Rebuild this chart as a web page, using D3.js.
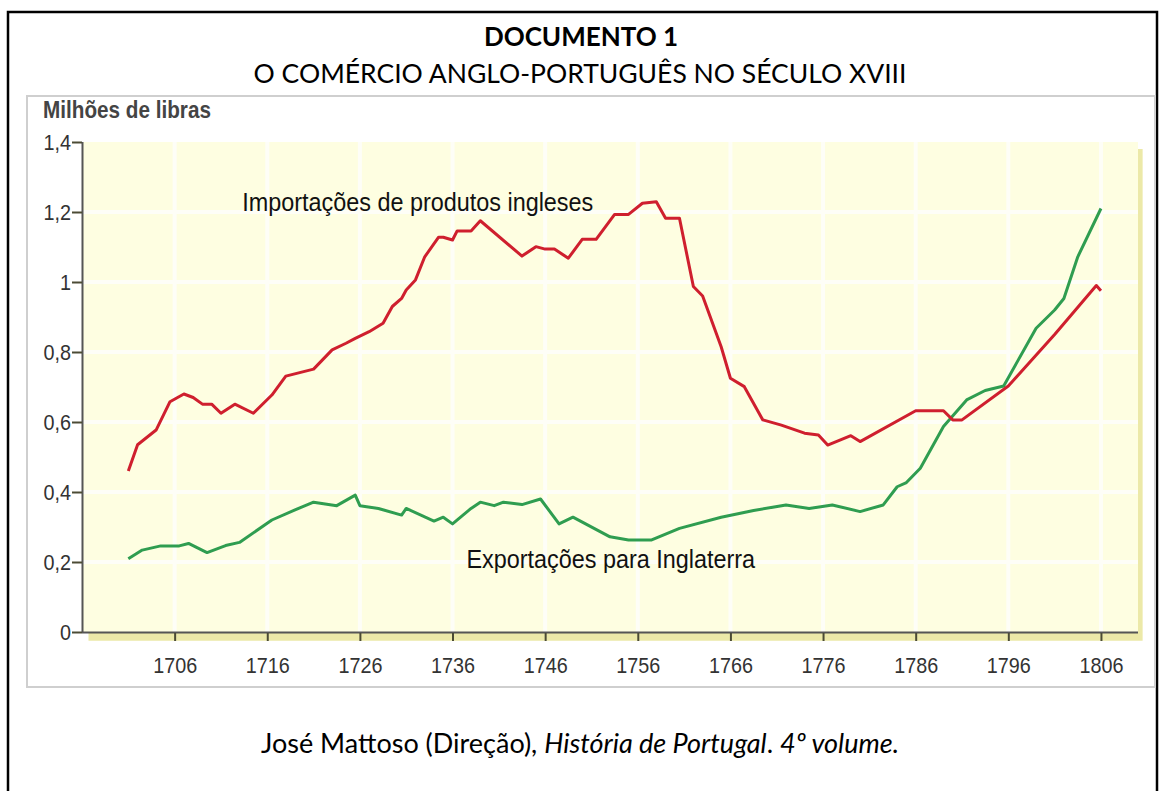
<!DOCTYPE html>
<html>
<head>
<meta charset="utf-8">
<script src="https://cdn.jsdelivr.net/npm/d3@7"></script>
<style>
  body { margin: 0; background: #fff; }
  svg { display: block; }
</style>
</head>
<body>
<svg id="doc"></svg>
<script>
const W = 1159, H = 791;

// values (milhões de libras)
const importYears = [1701, 1702, 1704, 1705.5, 1707, 1708, 1709, 1710, 1711, 1712.5, 1714.5, 1716.5, 1718,
  1721, 1723, 1724.5, 1725.5, 1727, 1728.5, 1729.5, 1730.5, 1731, 1732, 1733, 1734.5, 1735, 1736, 1736.5,
  1738, 1739, 1743.5, 1745, 1746, 1747, 1748.5, 1750, 1751.5, 1753.5, 1755, 1756.5, 1758, 1759, 1760.5,
  1762, 1763, 1765, 1766, 1767.5, 1769.5, 1771.5, 1774, 1775.5, 1776.5, 1779, 1780, 1786, 1789, 1790,
  1791, 1796, 1801, 1805.5, 1806];
const importValues = [0.46, 0.535, 0.577, 0.658, 0.68, 0.67, 0.651, 0.651, 0.625, 0.651, 0.625, 0.677, 0.731,
  0.751, 0.806, 0.825, 0.839, 0.858, 0.882, 0.93, 0.953, 0.977, 1.006, 1.072, 1.128, 1.128, 1.12, 1.146,
  1.146, 1.175, 1.074, 1.101, 1.094, 1.094, 1.068, 1.122, 1.122, 1.193, 1.193, 1.225, 1.229, 1.182, 1.182,
  0.987, 0.96, 0.815, 0.725, 0.701, 0.606, 0.591, 0.568, 0.563, 0.534, 0.561, 0.544, 0.632, 0.632, 0.606,
  0.606, 0.703, 0.85, 0.99, 0.975];

const exportYears = [1701, 1702.5, 1704.5, 1706.5, 1707.5, 1709.5, 1711.5, 1713, 1716.5, 1719, 1721, 1723.5,
  1725.5, 1726, 1728, 1730.5, 1731, 1734, 1735, 1736, 1738, 1739, 1740.5, 1741.5, 1743.5, 1745.5, 1747.5,
  1749, 1753, 1755, 1757.5, 1760.5, 1765, 1768.5, 1772, 1774.5, 1777, 1780, 1782.5, 1784, 1785, 1786.5,
  1789, 1791.5, 1793.5, 1795.5, 1799, 1801, 1802, 1803.5, 1806];
const exportValues = [0.209, 0.234, 0.246, 0.246, 0.253, 0.227, 0.247, 0.256, 0.32, 0.349, 0.371, 0.361,
  0.391, 0.361, 0.353, 0.334, 0.353, 0.317, 0.328, 0.309, 0.353, 0.371, 0.361, 0.371, 0.364, 0.38, 0.309,
  0.328, 0.272, 0.263, 0.263, 0.296, 0.328, 0.347, 0.363, 0.353, 0.363, 0.344, 0.363, 0.415, 0.427, 0.468,
  0.587, 0.663, 0.69, 0.703, 0.868, 0.92, 0.953, 1.072, 1.21];

const xTicks = [1706, 1716, 1726, 1736, 1746, 1756, 1766, 1776, 1786, 1796, 1806];
const yTicks = [0, 0.2, 0.4, 0.6, 0.8, 1, 1.2, 1.4];
const yTickLabels = ["0", "0,2", "0,4", "0,6", "0,8", "1", "1,2", "1,4"];

const docFont = "Lato, 'Open Sans', sans-serif";
// the chart uses a condensed grotesque; Liberation Sans squeezed a little comes close
const chartFont = "'Liberation Sans', Arial, sans-serif";
const squeeze = 0.9;

const svg = d3.select('#doc')
  .attr('width', W)
  .attr('height', H);

// page frame
svg.append('rect')
  .attr('x', 8).attr('y', 12)
  .attr('width', 1149).attr('height', 800)
  .attr('fill', 'none')
  .attr('stroke', '#000')
  .attr('stroke-width', 2.5);

svg.append('text')
  .attr('x', 581).attr('y', 46)
  .attr('text-anchor', 'middle')
  .style('font-family', docFont)
  .style('font-weight', 'bold')
  .style('font-size', '26px')
  .text('DOCUMENTO 1');

svg.append('text')
  .attr('x', 580).attr('y', 83)
  .attr('text-anchor', 'middle')
  .style('font-family', docFont)
  .style('font-size', '26.5px')
  .text('O COMÉRCIO ANGLO-PORTUGUÊS NO SÉCULO XVIII');

// picture box
svg.append('rect')
  .attr('x', 27).attr('y', 96)
  .attr('width', 1128).attr('height', 591)
  .attr('fill', '#fff')
  .attr('stroke', '#cfcfcf')
  .attr('stroke-width', 2);

// scales
const x = d3.scaleLinear().domain([1696, 1810]).range([82, 1138]);
const y = d3.scaleLinear().domain([0, 1.4]).range([632, 142]);

// plot background with a little shadow on the right and below
svg.append('rect')
  .attr('x', x(1696.7)).attr('y', y(1.38))
  .attr('width', x(1810.5) - x(1696.7)).attr('height', y(-0.025) - y(1.38))
  .attr('fill', '#ece9a8');

svg.append('rect')
  .attr('x', x(1696)).attr('y', y(1.4))
  .attr('width', x(1810) - x(1696)).attr('height', y(0) - y(1.4))
  .attr('fill', '#fefee1');

// soft white grid
const grid = svg.append('g').attr('stroke', '#fff').attr('stroke-width', 4).attr('opacity', 0.75);
grid.selectAll('line.h')
  .data(yTicks.slice(1, -1))
  .enter()
  .append('line')
  .attr('class', 'h')
  .attr('x1', x(1696)).attr('x2', x(1810))
  .attr('y1', d => y(d)).attr('y2', d => y(d));
grid.selectAll('line.v')
  .data(xTicks)
  .enter()
  .append('line')
  .attr('class', 'v')
  .attr('x1', d => x(d)).attr('x2', d => x(d))
  .attr('y1', y(1.4)).attr('y2', y(0));

// lines
const line = d3.line()
  .x(d => x(d[0]))
  .y(d => y(d[1]));

svg.append('path')
  .datum(d3.zip(exportYears, exportValues))
  .attr('d', line)
  .attr('fill', 'none')
  .attr('stroke', '#2f9d50')
  .attr('stroke-width', 3)
  .attr('stroke-linejoin', 'round');

svg.append('path')
  .datum(d3.zip(importYears, importValues))
  .attr('d', line)
  .attr('fill', 'none')
  .attr('stroke', '#cf1f2e')
  .attr('stroke-width', 3)
  .attr('stroke-linejoin', 'round');

// axes
const yAxis = svg.append('g')
  .attr('transform', 'translate(' + x(1696) + ',0)')
  .call(d3.axisLeft(y).tickValues(yTicks).tickSize(10).tickPadding(1)
    .tickFormat((d, i) => yTickLabels[i]));

const xAxis = svg.append('g')
  .attr('transform', 'translate(0,' + y(0) + ')')
  .call(d3.axisBottom(x).tickValues(xTicks).tickSize(9).tickPadding(16)
    .tickFormat(d3.format('d')));

svg.selectAll('.domain').attr('stroke', '#555').attr('stroke-width', 2);
yAxis.select('.domain').attr('d', 'M0.5,' + y(0) + 'V' + y(1.4));
xAxis.select('.domain').attr('d', 'M' + x(1696) + ',0.5H' + x(1810));
svg.selectAll('.tick line').attr('stroke', '#4b4b35').attr('stroke-width', 2);
yAxis.selectAll('.tick line').attr('x2', -10);
xAxis.selectAll('.tick line').attr('y1', 1);
svg.selectAll('.tick text')
  .style('font-family', chartFont)
  .style('font-size', '22px')
  .attr('fill', '#333')
  .attr('transform', 'scale(' + squeeze + ',1)');
yAxis.selectAll('.tick text').attr('x', -11 / squeeze);

function chartText(px, py, size, weight, fill, str) {
  return svg.append('text')
    .attr('transform', 'translate(' + px + ',' + py + ') scale(' + squeeze + ',1)')
    .style('font-family', chartFont)
    .style('font-size', size + 'px')
    .style('font-weight', weight)
    .attr('fill', fill)
    .text(str);
}

chartText(43, 118, 23, 'bold', '#444', 'Milhões de libras');

// series labels
chartText(x(1713.3), y(1.203), 26, 'normal', '#111', 'Importações de produtos ingleses');
chartText(x(1737.5), y(0.183), 26, 'normal', '#111', 'Exportações para Inglaterra');

// source
const src = svg.append('text')
  .attr('x', 580).attr('y', 753)
  .attr('text-anchor', 'middle')
  .style('font-family', docFont)
  .style('font-size', '27px');
src.append('tspan').text('José Mattoso (Direção), ');
src.append('tspan').style('font-style', 'italic').text('História de Portugal');
src.append('tspan').text('. ');
src.append('tspan').style('font-style', 'italic').text('4º volume.');
</script>
</body>
</html>
